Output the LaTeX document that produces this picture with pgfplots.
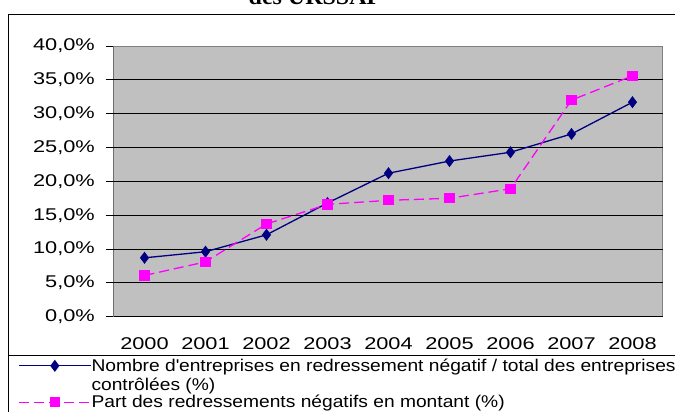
\documentclass[border=0pt]{standalone}
\usepackage{pgfplots}
\pgfplotsset{compat=1.18}
\usepackage{fontspec}
\setmainfont{Liberation Sans}
\newfontfamily\tickfont[FakeStretch=1.28]{Liberation Sans}
\newfontfamily\legfont[FakeStretch=1.13]{Liberation Sans}
\newfontfamily\titlefont{Liberation Serif}
\definecolor{navy}{RGB}{0,0,128}
\definecolor{mag}{RGB}{255,0,255}
\definecolor{plotgray}{RGB}{192,192,192}
\definecolor{bordergray}{RGB}{128,128,128}

\begin{document}
\begin{tikzpicture}[x=1pt,y=1pt]
\useasboundingbox (0,0) rectangle (675,-412);
\clip (0,0) rectangle (675,-412);
\fill[white] (0,0) rectangle (675,-412);
\node[anchor=base, inner sep=0pt, font=\titlefont\bfseries\fontsize{24}{28}\selectfont] at (315,-5) {des URSSAF};
\draw[line width=1.5pt] (8.5,-14.5) rectangle (700,-440);
\draw[line width=1pt] (8.5,-355.5) -- (700,-355.5);
\begin{axis}[
  at={(114pt,-316.7pt)}, anchor=south west,
  scale only axis, width=549pt, height=270.7pt,
  xmin=-0.5, xmax=8.5, ymin=0, ymax=40,
  axis background/.style={fill=plotgray},
  axis line style={draw=bordergray, line width=1pt},
  tick align=outside, tick pos=left,
  major tick length=8pt, minor tick length=7pt,
  tick style={black, line width=0.8pt},
  xtick={0,...,8},
  xticklabels={2000,2001,2002,2003,2004,2005,2006,2007,2008},
  xtick style={draw=none},
  minor xtick={-0.5,0.5,...,8.5},
  ytick={0,5,...,40},
  yticklabels={{0,0\%},{5,0\%},{10,0\%},{15,0\%},{20,0\%},{25,0\%},{30,0\%},{35,0\%},{40,0\%}},
  extra y ticks={5,10,...,35},
  extra y tick labels={},
  extra y tick style={grid=major, major grid style={black, line width=0.9pt}},
  yticklabel style={font=\tickfont\fontsize{17}{20}\selectfont, inner sep=0pt, anchor=east, xshift=-11pt},
  xticklabel style={font=\tickfont\fontsize{17}{20}\selectfont, inner sep=0pt, anchor=north, yshift=-13pt},
  legend style={at={(-0.1803,-0.146)}, anchor=north west, draw=none, fill=none,
    font=\legfont\fontsize{17}{19}\selectfont,
    nodes={inner sep=0pt}, row sep=22pt},
  legend cell align=left,
  legend image code/.code={\draw[mark repeat=2,mark phase=2] plot coordinates {(0pt,0pt) (36pt,0pt) (72pt,0pt)};},
]
\addplot[navy, line width=1.3pt, mark=diamond*, mark size=5pt, mark options={solid, fill=navy}]
  coordinates {(0,8.7)(1,9.6)(2,12.1)(3,16.8)(4,21.2)(5,23.0)(6,24.3)(7,27.0)(8,31.7)};
\addlegendentry{\raisebox{0pt}[\height][0pt]{\begin{tabular}[t]{@{}l@{}}Nombre d\textquotesingle entreprises en redressement négatif / total des entreprises\\contrôlées (\%)\end{tabular}}}
\addplot[mag, line width=1.3pt, dash pattern=on 10pt off 5pt, mark=square*, mark size=4.5pt, mark options={solid, fill=mag}]
  coordinates {(0,6.1)(1,8.1)(2,13.7)(3,16.6)(4,17.2)(5,17.5)(6,18.9)(7,32.0)(8,35.6)};
\addlegendentry{Part des redressements négatifs en montant (\%)}
\draw[black, line width=1pt] (rel axis cs:0,1) -- (rel axis cs:0,0) -- (rel axis cs:1,0);
\end{axis}
\end{tikzpicture}
\end{document}
